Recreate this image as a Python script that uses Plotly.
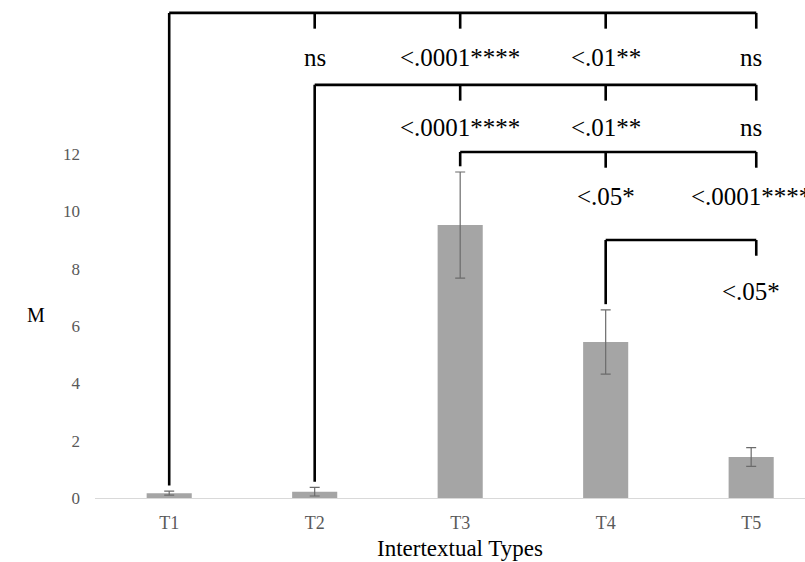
import plotly.graph_objects as go

# ---- data ----
categories = ["T1", "T2", "T3", "T4", "T5"]
means = [0.17, 0.22, 9.52, 5.44, 1.43]
errors = [0.07, 0.15, 1.85, 1.12, 0.33]
y_ticks = [0, 2, 4, 6, 8, 10, 12]

# significance comparisons: from category index -> target indices with labels
cmp_from = [0, 1, 2, 3]
cmp_targets = [[1, 2, 3, 4], [2, 3, 4], [3, 4], [4]]
cmp_labels = [["ns", "<.0001****", "<.01**", "ns"],
              ["<.0001****", "<.01**", "ns"],
              ["<.05*", "<.0001****"],
              ["<.05*"]]
cmp_level = [16.92, 14.41, 12.07, 9.0]     # bracket heights (M units)
cmp_label_y = [15.38, 12.94, 10.50, 7.19]  # label heights (M units)

x_idx = list(range(len(categories)))
W, H = 805, 562
ML, MB = 95, 64
PXU = 28.67  # pixels per M unit
serif = "Liberation Serif"

fig = go.Figure()
fig.add_trace(go.Bar(
    x=x_idx, y=means, width=0.31,
    marker=dict(color="#a5a5a5", line=dict(width=0)),
    error_y=dict(type="data", array=errors, visible=True,
                 color="#6b6b6b", thickness=1.2, width=5),
    hoverinfo="skip",
))

drop = 0.55
gap = 0.2
line = dict(color="black", width=2.6)
shapes = []
annotations = []
for f, tg, labs, lvl, ly in zip(cmp_from, cmp_targets, cmp_labels, cmp_level, cmp_label_y):
    bottom = means[f] + errors[f] + gap
    right = tg[-1] + 0.035
    shapes.append(dict(type="line", xref="x", yref="y", x0=f, x1=f, y0=bottom, y1=lvl, line=line))
    shapes.append(dict(type="line", xref="x", yref="y", x0=f, x1=right, y0=lvl, y1=lvl, line=line))
    for t, lab in zip(tg, labs):
        tx = t + 0.035 if t == 4 else t
        shapes.append(dict(type="line", xref="x", yref="y", x0=tx, x1=tx, y0=lvl, y1=lvl - drop, line=line))
        annotations.append(dict(x=t, y=ly, xref="x", yref="y", text=lab, showarrow=False,
                                font=dict(family=serif, size=25, color="black"),
                                xanchor="center", yanchor="middle"))

plot_h = H - MB
annotations.append(dict(x=(25 - ML) / (W - ML), y=(plot_h - 315) / plot_h, xref="paper", yref="paper",
                        text="M", showarrow=False, yanchor="middle",
                        font=dict(family=serif, size=20, color="black")))
annotations.append(dict(x=2, y=(plot_h - 548) / plot_h, xref="x", yref="paper",
                        text="Intertextual Types", showarrow=False, yanchor="middle",
                        font=dict(family=serif, size=23, color="black")))

fig.update_layout(
    width=W, height=H,
    margin=dict(l=ML, r=0, t=0, b=MB),
    paper_bgcolor="white", plot_bgcolor="white",
    showlegend=False,
    shapes=shapes, annotations=annotations,
    xaxis=dict(range=[-0.51, 4.37], tickvals=x_idx, ticktext=categories,
               showline=True, linecolor="#d9d9d9", linewidth=1.3,
               showgrid=False, zeroline=False, ticks="",
               tickfont=dict(family=serif, size=18, color="#595959"),
               ticklabelstandoff=8, fixedrange=True),
    yaxis=dict(range=[0, plot_h / PXU], tickvals=y_ticks,
               showline=False, showgrid=False, zeroline=False, ticks="",
               tickfont=dict(family=serif, size=17, color="#595959"),
               ticklabelstandoff=14, fixedrange=True),
)

fig.write_html("out.html", config={"staticPlot": True})
